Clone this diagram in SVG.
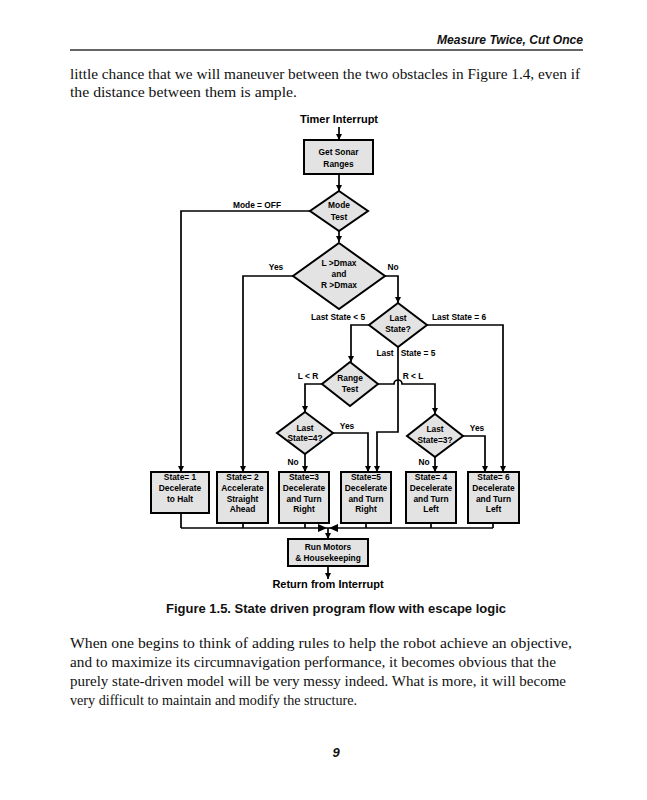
<svg xmlns="http://www.w3.org/2000/svg" width="647" height="800" viewBox="0 0 647 800">
<defs>
<marker id="ah" viewBox="0 0 10 10" refX="10" refY="5" markerWidth="6" markerHeight="6" orient="auto" markerUnits="userSpaceOnUse">
<path d="M0,0 L10,5 L0,10 z" fill="#000"/>
</marker>
<style>
.body{font-family:"Liberation Serif",serif;font-size:14.5px;fill:#111}
.hdr{font-family:"Liberation Sans",Arial,sans-serif;font-size:13px;font-weight:bold;font-style:italic;fill:#111}
.cap{font-family:"Liberation Sans",Arial,sans-serif;font-size:13px;font-weight:bold;fill:#111}
.t{font-family:"Liberation Sans",Arial,sans-serif;font-size:8.4px;font-weight:bold;fill:#000;text-anchor:middle}
.lb{font-family:"Liberation Sans",Arial,sans-serif;font-size:8.4px;font-weight:bold;fill:#000;text-anchor:middle}
.big{font-family:"Liberation Sans",Arial,sans-serif;font-size:11px;font-weight:bold;fill:#000;text-anchor:middle}
.box{fill:#e3e3e3;stroke:#000;stroke-width:2}
.c{fill:none;stroke:#000;stroke-width:1.7}
.ca{fill:none;stroke:#000;stroke-width:1.7;marker-end:url(#ah)}
</style>
</defs>
<rect width="647" height="800" fill="#fff"/>

<!-- page text -->
<text class="hdr" x="583" y="44" text-anchor="end" textLength="146" lengthAdjust="spacingAndGlyphs">Measure Twice, Cut Once</text>
<line x1="70" y1="50" x2="583" y2="50" stroke="#333" stroke-width="1.5"/>
<text class="body" x="70" y="79" textLength="510" lengthAdjust="spacingAndGlyphs">little chance that we will maneuver between the two obstacles in Figure 1.4, even if</text>
<text class="body" x="70" y="97" textLength="227" lengthAdjust="spacingAndGlyphs">the distance between them is ample.</text>

<!-- terminal labels -->
<text class="big" x="339" y="123">Timer Interrupt</text>
<text class="big" x="328" y="588">Return from Interrupt</text>

<!-- connectors -->
<g id="connectors">
<path class="ca" d="M339,127 V140"/>
<path class="ca" d="M339,174 V191"/>
<path class="ca" d="M310,211 H181 V472"/>
<path class="ca" d="M339,231 V242"/>
<path class="ca" d="M293,276 H243 V472"/>
<path class="ca" d="M385,276 H398 V303"/>
<path class="ca" d="M369,325 H351 V362"/>
<path class="ca" d="M427,325 H503 V472"/>
<path class="ca" d="M398,347 V432 H377 V472"/>
<path class="ca" d="M322,384 H305 V412"/>
<path class="ca" d="M378,384 H394 A4,4 0 0 1 402,384 H435 V414"/>
<path class="ca" d="M333,433 H368 V472"/>
<path class="ca" d="M305,454 V472"/>
<path class="ca" d="M463,436 H485 V472"/>
<path class="ca" d="M435,457 V472"/>
<path class="c" d="M181,513 V528 M243,523 V528 M305,523 V528 M366,523 V528 M431,523 V528 M493,523 V528"/>
<path class="c" d="M181,528 H493"/>
<path fill="#000" d="M318,524 L327,528 L318,532 z M338,524 L329,528 L338,532 z"/>
<path class="ca" d="M328,528 V539"/>
<path class="ca" d="M328,566 V579"/>
</g>

<!-- nodes -->
<g id="get-sonar">
<rect class="box" x="304" y="140" width="69" height="34"/>
<text class="t" x="338.5" y="155">Get Sonar</text>
<text class="t" x="338.5" y="167">Ranges</text>
</g>
<g id="mode-test">
<polygon class="box" points="339,191 368,211 339,231 310,211"/>
<text class="t" x="339" y="208">Mode</text>
<text class="t" x="339" y="220">Test</text>
</g>
<g id="dmax-test">
<polygon class="box" points="339,243 385,276 339,309 293,276"/>
<text class="t" x="339" y="266">L &gt;Dmax</text>
<text class="t" x="339" y="277">and</text>
<text class="t" x="339" y="288">R &gt;Dmax</text>
</g>
<g id="last-state">
<polygon class="box" points="398,303 427,325 398,347 369,325"/>
<text class="t" x="398" y="321">Last</text>
<text class="t" x="398" y="332">State?</text>
</g>
<g id="range-test">
<polygon class="box" points="350,362 378,384 350,406 322,384"/>
<text class="t" x="350" y="381">Range</text>
<text class="t" x="350" y="392">Test</text>
</g>
<g id="last-state-4">
<polygon class="box" points="305,412 333,433 305,454 277,433"/>
<text class="t" x="305" y="431">Last</text>
<text class="t" x="305" y="441">State=4?</text>
</g>
<g id="last-state-3">
<polygon class="box" points="435,414 463,436 435,457 407,436"/>
<text class="t" x="435" y="432">Last</text>
<text class="t" x="435" y="443">State=3?</text>
</g>
<g id="state1">
<rect class="box" x="151" y="472" width="58" height="41"/>
<text class="t" x="180" y="480">State= 1</text>
<text class="t" x="180" y="491">Decelerate</text>
<text class="t" x="180" y="502">to Halt</text>
</g>
<g id="state2">
<rect class="box" x="217" y="472" width="51" height="51"/>
<text class="t" x="242.5" y="480">State= 2</text>
<text class="t" x="242.5" y="491">Accelerate</text>
<text class="t" x="242.5" y="502">Straight</text>
<text class="t" x="242.5" y="512">Ahead</text>
</g>
<g id="state3">
<rect class="box" x="279" y="472" width="50" height="51"/>
<text class="t" x="304" y="480">State=3</text>
<text class="t" x="304" y="491">Decelerate</text>
<text class="t" x="304" y="502">and Turn</text>
<text class="t" x="304" y="512">Right</text>
</g>
<g id="state5">
<rect class="box" x="341" y="472" width="50" height="51"/>
<text class="t" x="366" y="480">State=5</text>
<text class="t" x="366" y="491">Decelerate</text>
<text class="t" x="366" y="502">and Turn</text>
<text class="t" x="366" y="512">Right</text>
</g>
<g id="state4">
<rect class="box" x="406" y="472" width="50" height="51"/>
<text class="t" x="431" y="480">State= 4</text>
<text class="t" x="431" y="491">Decelerate</text>
<text class="t" x="431" y="502">and Turn</text>
<text class="t" x="431" y="512">Left</text>
</g>
<g id="state6">
<rect class="box" x="468" y="472" width="51" height="51"/>
<text class="t" x="493.5" y="480">State= 6</text>
<text class="t" x="493.5" y="491">Decelerate</text>
<text class="t" x="493.5" y="502">and Turn</text>
<text class="t" x="493.5" y="512">Left</text>
</g>
<g id="run-motors">
<rect class="box" x="288" y="539" width="80" height="27"/>
<text class="t" x="328" y="550">Run Motors</text>
<text class="t" x="328" y="561">&amp; Housekeeping</text>
</g>

<!-- connector labels -->
<g id="labels">
<text class="lb" x="257" y="208">Mode = OFF</text>
<text class="lb" x="276" y="270">Yes</text>
<text class="lb" x="393" y="270">No</text>
<text class="lb" x="338" y="320">Last State &lt; 5</text>
<text class="lb" x="459" y="320">Last State = 6</text>
<text class="lb" x="385" y="356">Last</text>
<text class="lb" x="418" y="356">State = 5</text>
<text class="lb" x="308" y="379">L &lt; R</text>
<text class="lb" x="413" y="379">R &lt; L</text>
<text class="lb" x="347" y="429">Yes</text>
<text class="lb" x="477" y="431">Yes</text>
<text class="lb" x="293" y="465">No</text>
<text class="lb" x="424" y="465">No</text>
</g>

<text class="cap" x="336" y="613" text-anchor="middle" textLength="340" lengthAdjust="spacingAndGlyphs">Figure 1.5. State driven program flow with escape logic</text>
<text class="body" x="70" y="648" textLength="502" lengthAdjust="spacingAndGlyphs">When one begins to think of adding rules to help the robot achieve an objective,</text>
<text class="body" x="70" y="667" textLength="486" lengthAdjust="spacingAndGlyphs">and to maximize its circumnavigation performance, it becomes obvious that the</text>
<text class="body" x="70" y="686" textLength="496" lengthAdjust="spacingAndGlyphs">purely state-driven model will be very messy indeed. What is more, it will become</text>
<text class="body" x="70" y="705" textLength="287" lengthAdjust="spacingAndGlyphs">very difficult to maintain and modify the structure.</text>
<text class="hdr" x="336" y="757" text-anchor="middle">9</text>
</svg>
